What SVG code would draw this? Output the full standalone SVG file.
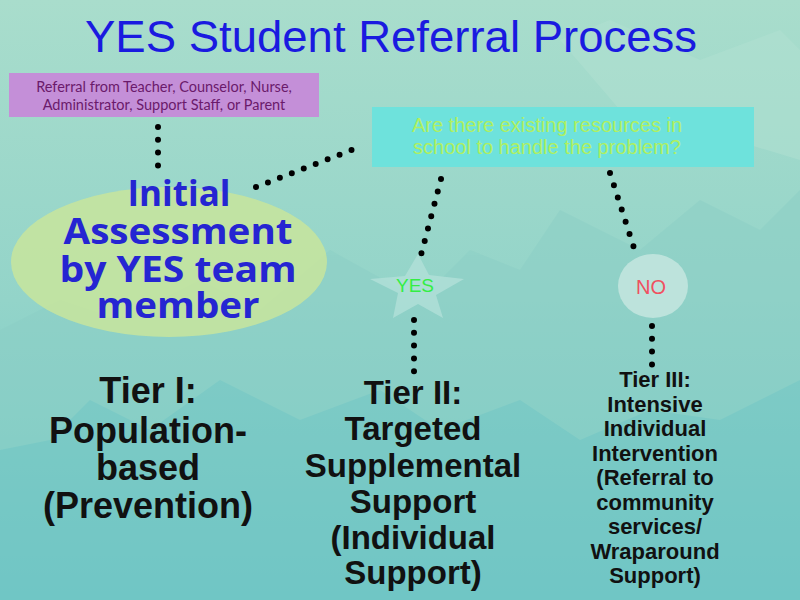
<svg xmlns="http://www.w3.org/2000/svg" width="800" height="600" viewBox="0 0 800 600">
<defs>
<linearGradient id="bg" x1="0" y1="0" x2="0" y2="1">
<stop offset="0" stop-color="#a9ddcc"/>
<stop offset="0.5" stop-color="#93d4c9"/>
<stop offset="1" stop-color="#6cc7c7"/>
</linearGradient>
<style>
.dots{fill:none;stroke:#000;stroke-width:6;stroke-linecap:round;stroke-dasharray:0 12.8}
.tier{font-family:"Liberation Sans",sans-serif;font-weight:bold;fill:#111;text-anchor:middle}
.as{font-family:"Open Sans","Liberation Sans",sans-serif;font-weight:bold;fill:#2525d2;text-anchor:middle;font-size:36px}
</style>
</defs>
<rect width="800" height="600" fill="url(#bg)"/>
<g id="background" opacity="0.5">
<polygon points="0,330 60,300 120,320 200,280 260,310 330,250 420,300 470,250 520,270 560,210 640,250 700,200 760,230 800,190 800,600 0,600" fill="#8ccfc6"/>
<polygon points="0,450 50,440 90,400 150,430 220,380 300,420 380,390 440,430 520,400 580,440 650,410 720,420 800,380 800,600 0,600" fill="#74c6c4"/>
<polygon points="560,40 610,20 700,60 780,30 800,50 800,160 700,130 620,110" fill="#b2e1d2"/>
</g>
<g id="title">
<text x="391" y="52" font-family="Liberation Sans,sans-serif" font-size="44" fill="#1a1ae0" text-anchor="middle" textLength="612" lengthAdjust="spacingAndGlyphs">YES Student Referral Process</text>
</g>
<g id="connectors">
<line class="dots" x1="158" y1="127" x2="158" y2="166"/>
<line class="dots" x1="256" y1="187" x2="362" y2="146"/>
<line class="dots" x1="441" y1="179" x2="421" y2="255"/>
<line class="dots" x1="610" y1="173" x2="635" y2="251"/>
<line class="dots" x1="414" y1="320" x2="414" y2="374"/>
<line class="dots" x1="652" y1="326" x2="652" y2="366"/>
</g>
<g id="referral">
<rect x="9" y="73" width="310" height="44" fill="#c48fd8"/>
<text x="164" y="92" font-family="Lato,'Liberation Sans',sans-serif" font-size="14.5" fill="#6b1a6b" text-anchor="middle">Referral from Teacher, Counselor, Nurse,</text>
<text x="164" y="110" font-family="Lato,'Liberation Sans',sans-serif" font-size="14.5" fill="#6b1a6b" text-anchor="middle">Administrator, Support Staff, or Parent</text>
</g>
<g id="question">
<rect x="372" y="107" width="382" height="60" fill="#6ee2dc"/>
<text x="547" y="132" font-family="Liberation Sans,sans-serif" font-size="20" fill="#b0f060" text-anchor="middle">Are there existing resources in</text>
<text x="547" y="154" font-family="Liberation Sans,sans-serif" font-size="20" fill="#b0f060" text-anchor="middle">school to handle the problem?</text>
</g>
<g id="assessment">
<ellipse cx="169" cy="262" rx="158" ry="75" fill="#c8e59c" opacity="0.85"/>
<text class="as" x="179" y="206" textLength="103" lengthAdjust="spacingAndGlyphs">Initial</text>
<text class="as" x="178" y="244" textLength="229" lengthAdjust="spacingAndGlyphs">Assessment</text>
<text class="as" x="178" y="282" textLength="237" lengthAdjust="spacingAndGlyphs">by YES team</text>
<text class="as" x="178" y="318" textLength="163" lengthAdjust="spacingAndGlyphs">member</text>
</g>
<g id="yes">
<polygon points="418,254 429,275 464,279 436,295 443,318 418,304 393,318 398,293 370,279 405,276" fill="#b2e0d8" opacity="0.8"/>
<text x="415" y="292" font-family="Liberation Sans,sans-serif" font-size="19" fill="#33ee44" text-anchor="middle">YES</text>
</g>
<g id="no">
<ellipse cx="653" cy="286" rx="35" ry="32" fill="#bde3dc"/>
<text x="651" y="294" font-family="Liberation Sans,sans-serif" font-size="20" fill="#f05060" text-anchor="middle">NO</text>
</g>
<g id="tier1">
<text class="tier" x="148" y="403" font-size="36">Tier I:</text>
<text class="tier" x="148" y="443" font-size="36">Population-</text>
<text class="tier" x="148" y="480" font-size="36">based</text>
<text class="tier" x="148" y="518" font-size="36">(Prevention)</text>
</g>
<g id="tier2">
<text class="tier" x="413" y="404" font-size="33">Tier II:</text>
<text class="tier" x="413" y="440" font-size="33">Targeted</text>
<text class="tier" x="413" y="477" font-size="33">Supplemental</text>
<text class="tier" x="413" y="513" font-size="33">Support</text>
<text class="tier" x="413" y="549" font-size="33">(Individual</text>
<text class="tier" x="413" y="584" font-size="33">Support)</text>
</g>
<g id="tier3">
<text class="tier" x="655" y="387" font-size="22">Tier III:</text>
<text class="tier" x="655" y="412" font-size="22">Intensive</text>
<text class="tier" x="655" y="436" font-size="22">Individual</text>
<text class="tier" x="655" y="461" font-size="22">Intervention</text>
<text class="tier" x="655" y="485" font-size="22">(Referral to</text>
<text class="tier" x="655" y="510" font-size="22">community</text>
<text class="tier" x="655" y="534" font-size="22">services/</text>
<text class="tier" x="655" y="559" font-size="22">Wraparound</text>
<text class="tier" x="655" y="583" font-size="22">Support)</text>
</g>
</svg>
